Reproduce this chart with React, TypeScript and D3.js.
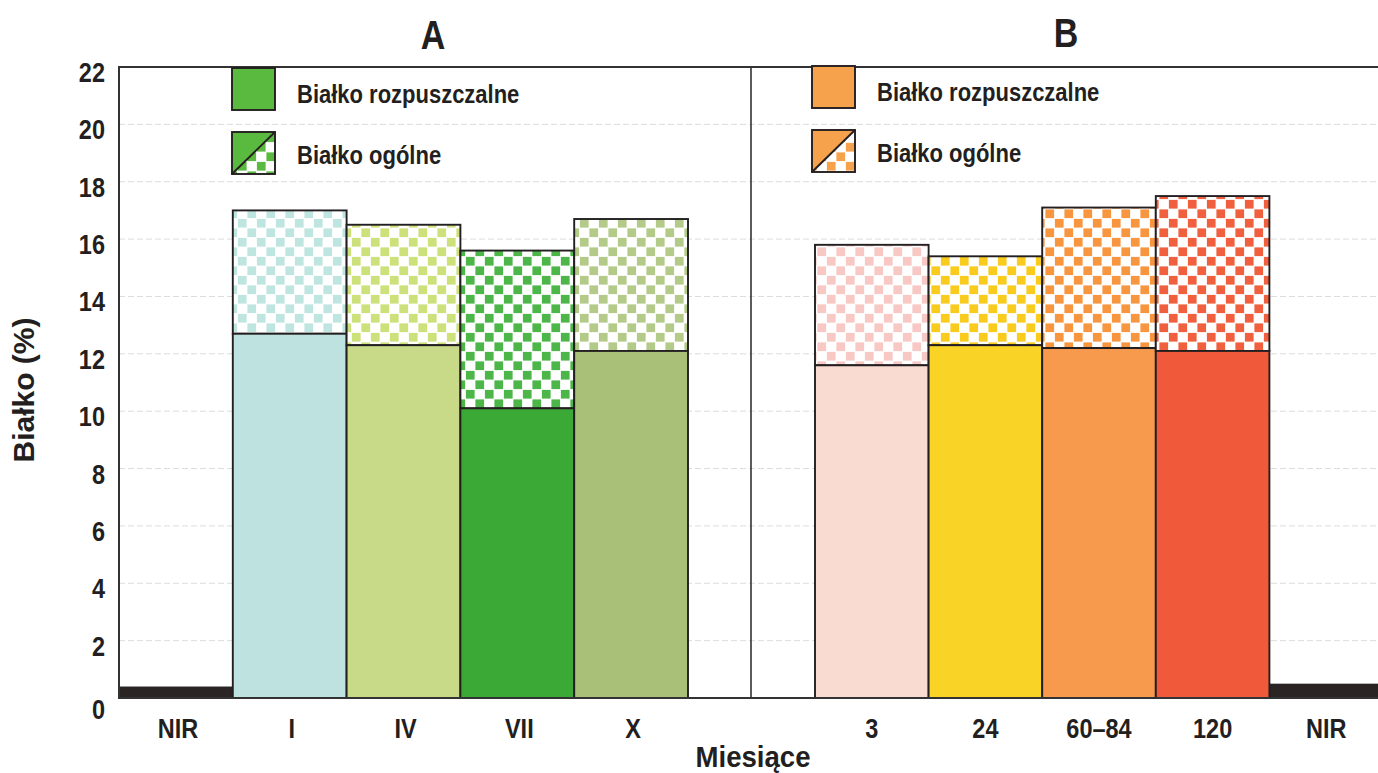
import React from "react";
import * as d3 from "d3";

// Panel A: harvest months; Panel B: storage time (months)
const monthsA = ["I", "IV", "VII", "X"];
const solubleA = [12.7, 12.3, 10.1, 12.1];
const totalA = [17.0, 16.5, 15.6, 16.7];
const colorsA = ["#bde2df", "#c8da88", "#3ba935", "#a8c078"];
const checkA = ["#bfe5e1", "#cde17a", "#4cb748", "#b3ca88"];

const monthsB = ["3", "24", "60–84", "120"];
const solubleB = [11.6, 12.3, 12.2, 12.1];
const totalB = [15.8, 15.4, 17.1, 17.5];
const colorsB = ["#f9dbd2", "#f9d326", "#f89a4e", "#f05a3a"];
const checkB = ["#f8c8c4", "#f8cb1c", "#f8963f", "#f0603f"];

// NIR reference levels
const nirA = 0.4;
const nirB = 0.5;

const yTicks = [0, 2, 4, 6, 8, 10, 12, 14, 16, 18, 20, 22];
const legendLabels = ["Białko rozpuszczalne", "Białko ogólne"];
const legendColorA = "#5ab93f";
const legendColorB = "#f6a14b";

const W = 1378;
const H = 773;
const FONT = "'Liberation Sans', Arial, 'DejaVu Sans', sans-serif";
const INK = "#231f20";

// Bold text squeezed horizontally to a condensed face
function T({ x, y, size, sx = 0.85, anchor = "start", rotate = 0, children }: {
  x: number; y: number; size: number; sx?: number; anchor?: string; rotate?: number;
  children: React.ReactNode;
}) {
  return (
    <g transform={`translate(${x},${y}) rotate(${rotate}) scale(${sx},1)`}>
      <text x={0} y={0} textAnchor={anchor} fontSize={size} fontWeight="bold" fill={INK}
        fontFamily={FONT}>
        {children}
      </text>
    </g>
  );
}

export default function App() {
  const y = d3.scaleLinear().domain([0, 22]).range([698, 67]);
  const xA = d3.scaleBand().domain(["NIR", ...monthsA]).range([119, 688]);
  const xB = d3.scaleBand().domain([...monthsB, "NIR"]).range([815, 1383]);
  const divider = 751;
  const cell = 9.5;
  const sw = 1.9;

  const patterns = [
    ...checkA.map((c, i) => ({ id: `ckA${i}`, c })),
    ...checkB.map((c, i) => ({ id: `ckB${i}`, c })),
    { id: "ckLegA", c: legendColorA },
    { id: "ckLegB", c: legendColorB },
  ];

  const stacks = (
    months: string[],
    sol: number[],
    tot: number[],
    cols: string[],
    key: string,
    x: d3.ScaleBand<string>
  ) =>
    months.map((m, i) => {
      const x0 = x(m)!;
      const w = x.bandwidth();
      return (
        <g key={key + m}>
          <rect x={x0} y={y(tot[i])} width={w} height={y(sol[i]) - y(tot[i])}
            fill={`url(#ck${key}${i})`} stroke={INK} strokeWidth={sw} />
          <rect x={x0} y={y(sol[i])} width={w} height={y(0) - y(sol[i])}
            fill={cols[i]} stroke={INK} strokeWidth={sw} />
        </g>
      );
    });

  const legend = (x0: number, y0: number, color: string, pid: string, key: string) => {
    const s = 42;
    const s2y = y0 + 64;
    return (
      <g key={key}>
        <rect x={x0} y={y0} width={s + 1} height={s} fill={color} stroke={INK} strokeWidth={sw} />
        <rect x={x0} y={s2y} width={s + 1} height={s} fill={`url(#${pid})`} />
        <polygon points={`${x0},${s2y} ${x0 + s + 1},${s2y} ${x0},${s2y + s}`} fill={color} />
        <line x1={x0} y1={s2y + s} x2={x0 + s + 1} y2={s2y} stroke={INK} strokeWidth={sw} />
        <rect x={x0} y={s2y} width={s + 1} height={s} fill="none" stroke={INK} strokeWidth={sw} />
        <T x={x0 + 65} y={y0 + 35} size={25} sx={0.88}>{legendLabels[0]}</T>
        <T x={x0 + 65} y={s2y + 32} size={25} sx={0.88}>{legendLabels[1]}</T>
      </g>
    );
  };

  return (
    <svg width={W} height={H} style={{ position: "absolute", left: 0, top: 0, background: "#fff" }}
      fontFamily={FONT}>
      <defs>
        {patterns.map((p) => (
          <pattern key={p.id} id={p.id} patternUnits="userSpaceOnUse" width={cell * 2} height={cell * 2}>
            <rect width={cell * 2} height={cell * 2} fill="#fff" />
            <rect x={0.4} y={0.4} width={cell - 0.8} height={cell - 0.8} fill={p.c} />
            <rect x={cell + 0.4} y={cell + 0.4} width={cell - 0.8} height={cell - 0.8} fill={p.c} />
          </pattern>
        ))}
      </defs>
      <rect width={W} height={H} fill="#fff" />

      {/* gridlines */}
      {yTicks.slice(1, -1).map((t) => (
        <line key={"g" + t} x1={119} x2={W} y1={y(t)} y2={y(t)} stroke="#dcdcdc"
          strokeWidth={1} strokeDasharray="6 3" />
      ))}

      {/* NIR bars */}
      <rect x={xA("NIR")!} y={y(nirA)} width={xA.bandwidth()} height={y(0) - y(nirA)} fill="#2b2424" />
      <rect x={xB("NIR")!} y={y(nirB)} width={xB.bandwidth()} height={y(0) - y(nirB)} fill="#2b2424" />

      {stacks(monthsA, solubleA, totalA, colorsA, "A", xA)}
      {stacks(monthsB, solubleB, totalB, colorsB, "B", xB)}

      {/* frame */}
      <line x1={119} x2={W} y1={y(22)} y2={y(22)} stroke="#333" strokeWidth={2} />
      <line x1={119} x2={119} y1={y(22) - 1} y2={y(0) + 1} stroke="#333" strokeWidth={2} />
      <line x1={119} x2={W} y1={y(0)} y2={y(0)} stroke="#333" strokeWidth={2} />
      <line x1={divider} x2={divider} y1={y(22)} y2={y(0)} stroke="#333" strokeWidth={1.6} />

      {legend(232, 68, legendColorA, "ckLegA", "legA")}
      {legend(812, 66, legendColorB, "ckLegB", "legB")}

      {/* panel titles */}
      <T x={433} y={49} size={40} sx={0.85} anchor="middle">A</T>
      <T x={1066} y={47} size={40} sx={0.85} anchor="middle">B</T>

      {/* y ticks */}
      {yTicks.map((t) => (
        <T key={"yt" + t} x={105} y={y(t) + (t === 0 ? 21 : 15)} size={28} sx={0.84} anchor="end">
          {t}
        </T>
      ))}

      {/* x ticks */}
      {xA.domain().map((c) => (
        <T key={"xa" + c} x={xA(c)! + xA.bandwidth() / 2 + 2} y={738} size={28} sx={0.84} anchor="middle">
          {c}
        </T>
      ))}
      {xB.domain().map((c) => (
        <T key={"xb" + c} x={xB(c)! + xB.bandwidth() / 2} y={738} size={28} sx={0.84} anchor="middle">
          {c}
        </T>
      ))}

      {/* axis titles */}
      <T x={753} y={767} size={30} sx={0.92} anchor="middle">Miesiące</T>
      <T x={34} y={390} size={30} sx={1.0} anchor="middle" rotate={-90}>Białko (%)</T>
    </svg>
  );
}
